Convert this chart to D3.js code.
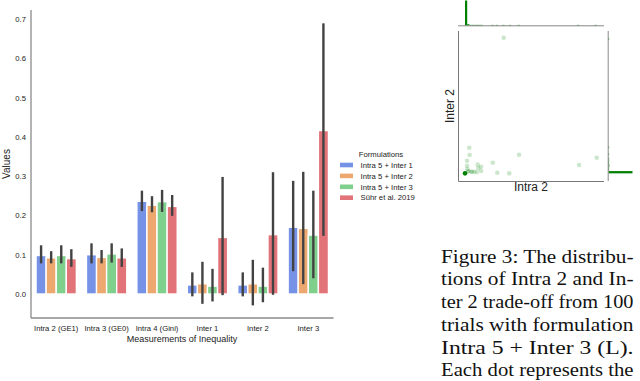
<!DOCTYPE html>
<html lang="en">
<head>
<meta charset="UTF-8">
<title>Inequality measurements</title>
<style>
  body { margin: 0; background: #fff; }
  svg { display: block; }
</style>
</head>
<body>
<svg></svg>
<script src="https://d3js.org/d3.v7.min.js"></script>
<script>
// ---- bar chart data ----
var categories = ["Intra 2 (GE1)", "Intra 3 (GE0)", "Intra 4 (Gini)", "Inter 1", "Inter 2", "Inter 3"];
var formulations = ["Intra 5 + Inter 1", "Intra 5 + Inter 2", "Intra 5 + Inter 3", "Sühr et al. 2019"];
var colors = ["#7592e6", "#eda86f", "#7fd08c", "#e27379"];

// mean value per category, one array per formulation
var meanInter1 = [0.098, 0.100, 0.236, 0.023, 0.023, 0.170];
var meanInter2 = [0.092, 0.093, 0.226, 0.026, 0.026, 0.167];
var meanInter3 = [0.098, 0.102, 0.235, 0.020, 0.020, 0.150];
var meanSuhr   = [0.090, 0.092, 0.223, 0.144, 0.151, 0.416];

// confidence interval lows / highs
var lowInter1  = [0.078, 0.078, 0.211, -0.006, -0.006, 0.058];
var highInter1 = [0.124, 0.129, 0.263, 0.055, 0.055, 0.288];
var lowInter2  = [0.078, 0.078, 0.208, -0.025, -0.029, 0.025];
var highInter2 = [0.109, 0.112, 0.249, 0.082, 0.087, 0.311];
var lowInter3  = [0.078, 0.080, 0.209, -0.019, -0.021, 0.040];
var highInter3 = [0.124, 0.129, 0.265, 0.064, 0.067, 0.263];
var lowSuhr    = [0.069, 0.069, 0.199, -0.003, -0.002, 0.148];
var highSuhr   = [0.114, 0.116, 0.252, 0.298, 0.310, 0.689];

var yTicks = [0.0, 0.1, 0.2, 0.3, 0.4, 0.5, 0.6, 0.7];

// ---- scatter (Intra 2 vs Inter 2) data, trials = how many of the 100 trials land on the dot ----
var intra2 = [0.313, 0.077, 0.080, 0.418, 0.950, 0.062, 0.238, 0.135, 0.158, 0.829, 0.062, 0.269, 0.351,
              0.048, 0.071, 0.094, 0.112, 0.128, 0.064, 0.139, 0.158];
var inter2 = [0.955, 0.222, 0.173, 0.175, 0.155, 0.135, 0.122, 0.109, 0.095, 0.107, 0.102, 0.055, 0.051,
              0.051, 0.065, 0.062, 0.062, 0.058, 0.080, 0.085, 0.067];
var trials = [1, 1, 1, 1, 1, 1, 1, 1, 1, 1, 1, 1, 1,
              76, 2, 2, 1, 1, 1, 1, 1];

var captionLines = [
  "Figure 3: The distribu-",
  "tions of Intra 2 and In-",
  "ter 2 trade-off from 100",
  "trials with formulation",
  "Intra 5 + Inter 3 (L).",
  "Each dot represents the"
];

var W = 640, H = 381;
var svg = d3.select("svg").attr("width", W).attr("height", H);
var sans = "'Liberation Sans', Arial, sans-serif";

// ================= bar chart =================
var means = [meanInter1, meanInter2, meanInter3, meanSuhr];
var lows = [lowInter1, lowInter2, lowInter3, lowSuhr];
var highs = [highInter1, highInter2, highInter3, highSuhr];

var x0 = d3.scaleBand().domain(categories).range([31, 333.5]).paddingInner(0.2).paddingOuter(0.1);
var x1 = d3.scaleBand().domain(d3.range(formulations.length)).range([0, x0.bandwidth()]);
var y = d3.scaleLinear().domain([-0.0611, 0.7229]).range([318, 10]);

var bars = svg.append("g");
formulations.forEach(function(f, j) {
  var rows = categories.map(function(c, i) {
    return {cat: c, v: means[j][i], lo: lows[j][i], hi: highs[j][i]};
  });
  bars.append("g").selectAll("rect")
    .data(rows)
    .enter()
    .append("rect")
    .attr("x", function(d) { return x0(d.cat) + x1(j); })
    .attr("width", x1.bandwidth())
    .attr("y", function(d) { return y(d.v); })
    .attr("height", function(d) { return y(0) - y(d.v); })
    .attr("fill", colors[j])
    .attr("stroke", "#fff")
    .attr("stroke-width", 1.4);
  bars.append("g").selectAll("line")
    .data(rows)
    .enter()
    .append("line")
    .attr("x1", function(d) { return x0(d.cat) + x1(j) + x1.bandwidth() / 2; })
    .attr("x2", function(d) { return x0(d.cat) + x1(j) + x1.bandwidth() / 2; })
    .attr("y1", function(d) { return y(d.lo); })
    .attr("y2", function(d) { return y(d.hi); })
    .attr("stroke", "#424242")
    .attr("stroke-width", 2.4);
});

// axes (seaborn white style: spines only, no tick marks)
var yAxis = svg.append("g")
  .attr("transform", "translate(31,0)")
  .call(d3.axisLeft(y).tickValues(yTicks).tickSize(0).tickPadding(5).tickFormat(d3.format(".1f")));
var xAxis = svg.append("g")
  .attr("transform", "translate(0,318)")
  .call(d3.axisBottom(x0).tickSize(0).tickPadding(8));
[yAxis, xAxis].forEach(function(a) {
  a.select(".domain").attr("stroke", "#8a8a8a").attr("stroke-width", 1.3);
  a.selectAll("text").attr("font-family", sans).attr("font-size", "7.7px").attr("fill", "#222");
});
xAxis.select(".domain").attr("d", "M31,0H333.5");
yAxis.select(".domain").attr("d", "M0,10V318");

svg.append("text")
  .attr("transform", "translate(10,164) rotate(-90)")
  .attr("text-anchor", "middle")
  .attr("font-family", sans).attr("font-size", "10px").attr("fill", "#222")
  .text("Values");
svg.append("text")
  .attr("x", 182).attr("y", 341.5)
  .attr("text-anchor", "middle")
  .attr("font-family", sans).attr("font-size", "9px").attr("fill", "#222")
  .text("Measurements of Inequality");

// legend
var legend = svg.append("g").attr("font-family", sans).attr("font-size", "7.7px").attr("fill", "#222");
legend.append("text").attr("x", 381).attr("y", 156.5).attr("text-anchor", "middle").text("Formulations");
var items = legend.selectAll(".item")
  .data(formulations)
  .enter()
  .append("g")
  .attr("transform", function(d, i) { return "translate(340," + (165 + i * 10.9) + ")"; });
items.append("rect").attr("x", 0).attr("y", -2.3).attr("width", 13).attr("height", 4.6)
  .attr("fill", function(d, i) { return colors[i]; });
items.append("text").attr("x", 20.5).attr("y", 2.7).text(function(d) { return d; });

// ================= joint scatter =================
var pts = intra2.map(function(v, i) { return {x: v, y: inter2[i], n: trials[i]}; });
var sx = d3.scaleLinear().domain([0, 1]).range([458, 604]);
var sy = d3.scaleLinear().domain([0, 1]).range([181, 31]);

var sc = svg.append("g");
sc.selectAll("circle")
  .data(pts)
  .enter()
  .append("circle")
  .attr("cx", function(d) { return sx(d.x); })
  .attr("cy", function(d) { return sy(d.y); })
  .attr("r", 2.3)
  .attr("fill", "green")
  .attr("fill-opacity", function(d) { return 1 - Math.pow(0.8, d.n); });

sc.append("path").attr("d", "M458.5,31V181.5H604").attr("fill", "none")
  .attr("stroke", "#777").attr("stroke-width", 1);

// marginal histograms
var nb = 60;
var xr = d3.extent(intra2), yr = d3.extent(inter2);
var binX = d3.bin().value(function(d) { return d.x; }).domain(xr)
  .thresholds(d3.range(1, nb).map(function(k) { return xr[0] + k * (xr[1] - xr[0]) / nb; }));
var binY = d3.bin().value(function(d) { return d.y; }).domain(yr)
  .thresholds(d3.range(1, nb).map(function(k) { return yr[0] + k * (yr[1] - yr[0]) / nb; }));
var hx = binX(pts), hy = binY(pts);
function cnt(b) { return d3.sum(b, function(d) { return d.n; }); }
var hScaleX = d3.scaleLinear().domain([0, d3.max(hx, cnt)]).range([0, 25]);
var hScaleY = d3.scaleLinear().domain([0, d3.max(hy, cnt)]).range([0, 24]);

svg.append("g").selectAll("rect")
  .data(hx.filter(function(b) { return cnt(b) > 0; }))
  .enter()
  .append("rect")
  .attr("x", function(b) { return sx(b.x0); })
  .attr("width", function(b) { return Math.max(1, sx(b.x1) - sx(b.x0)); })
  .attr("y", function(b) { return 25.5 - Math.max(0.6, hScaleX(cnt(b))); })
  .attr("height", function(b) { return Math.max(0.6, hScaleX(cnt(b))); })
  .attr("fill", "green");
svg.append("line").attr("x1", 458).attr("x2", 604).attr("y1", 25.8).attr("y2", 25.8)
  .attr("stroke", "#888").attr("stroke-width", 1);

svg.append("g").selectAll("rect")
  .data(hy.filter(function(b) { return cnt(b) > 0; }))
  .enter()
  .append("rect")
  .attr("x", 608.5)
  .attr("width", function(b) { return Math.max(0.6, hScaleY(cnt(b))); })
  .attr("y", function(b) { return sy(b.x1); })
  .attr("height", function(b) { return Math.max(1, sy(b.x0) - sy(b.x1)); })
  .attr("fill", "green");
svg.append("line").attr("x1", 608.2).attr("x2", 608.2).attr("y1", 31).attr("y2", 181)
  .attr("stroke", "#888").attr("stroke-width", 1);

svg.append("text")
  .attr("x", 531).attr("y", 191)
  .attr("text-anchor", "middle")
  .attr("font-family", sans).attr("font-size", "12px").attr("fill", "#222")
  .text("Intra 2");
svg.append("text")
  .attr("transform", "translate(454,106) rotate(-90)")
  .attr("text-anchor", "middle")
  .attr("font-family", sans).attr("font-size", "12px").attr("fill", "#222")
  .text("Inter 2");

// ================= caption =================
svg.append("g")
  .attr("font-family", "'Liberation Serif', 'DejaVu Serif', serif")
  .attr("font-size", "18px")
  .attr("fill", "#111")
  .selectAll("text")
  .data(captionLines)
  .enter()
  .append("text")
  .attr("x", 441)
  .attr("y", function(d, i) { return 262.7 + i * 22.7; })
  .attr("textLength", 192.5)
  .attr("lengthAdjust", "spacingAndGlyphs")
  .text(function(d) { return d; });
</script>
</body>
</html>
